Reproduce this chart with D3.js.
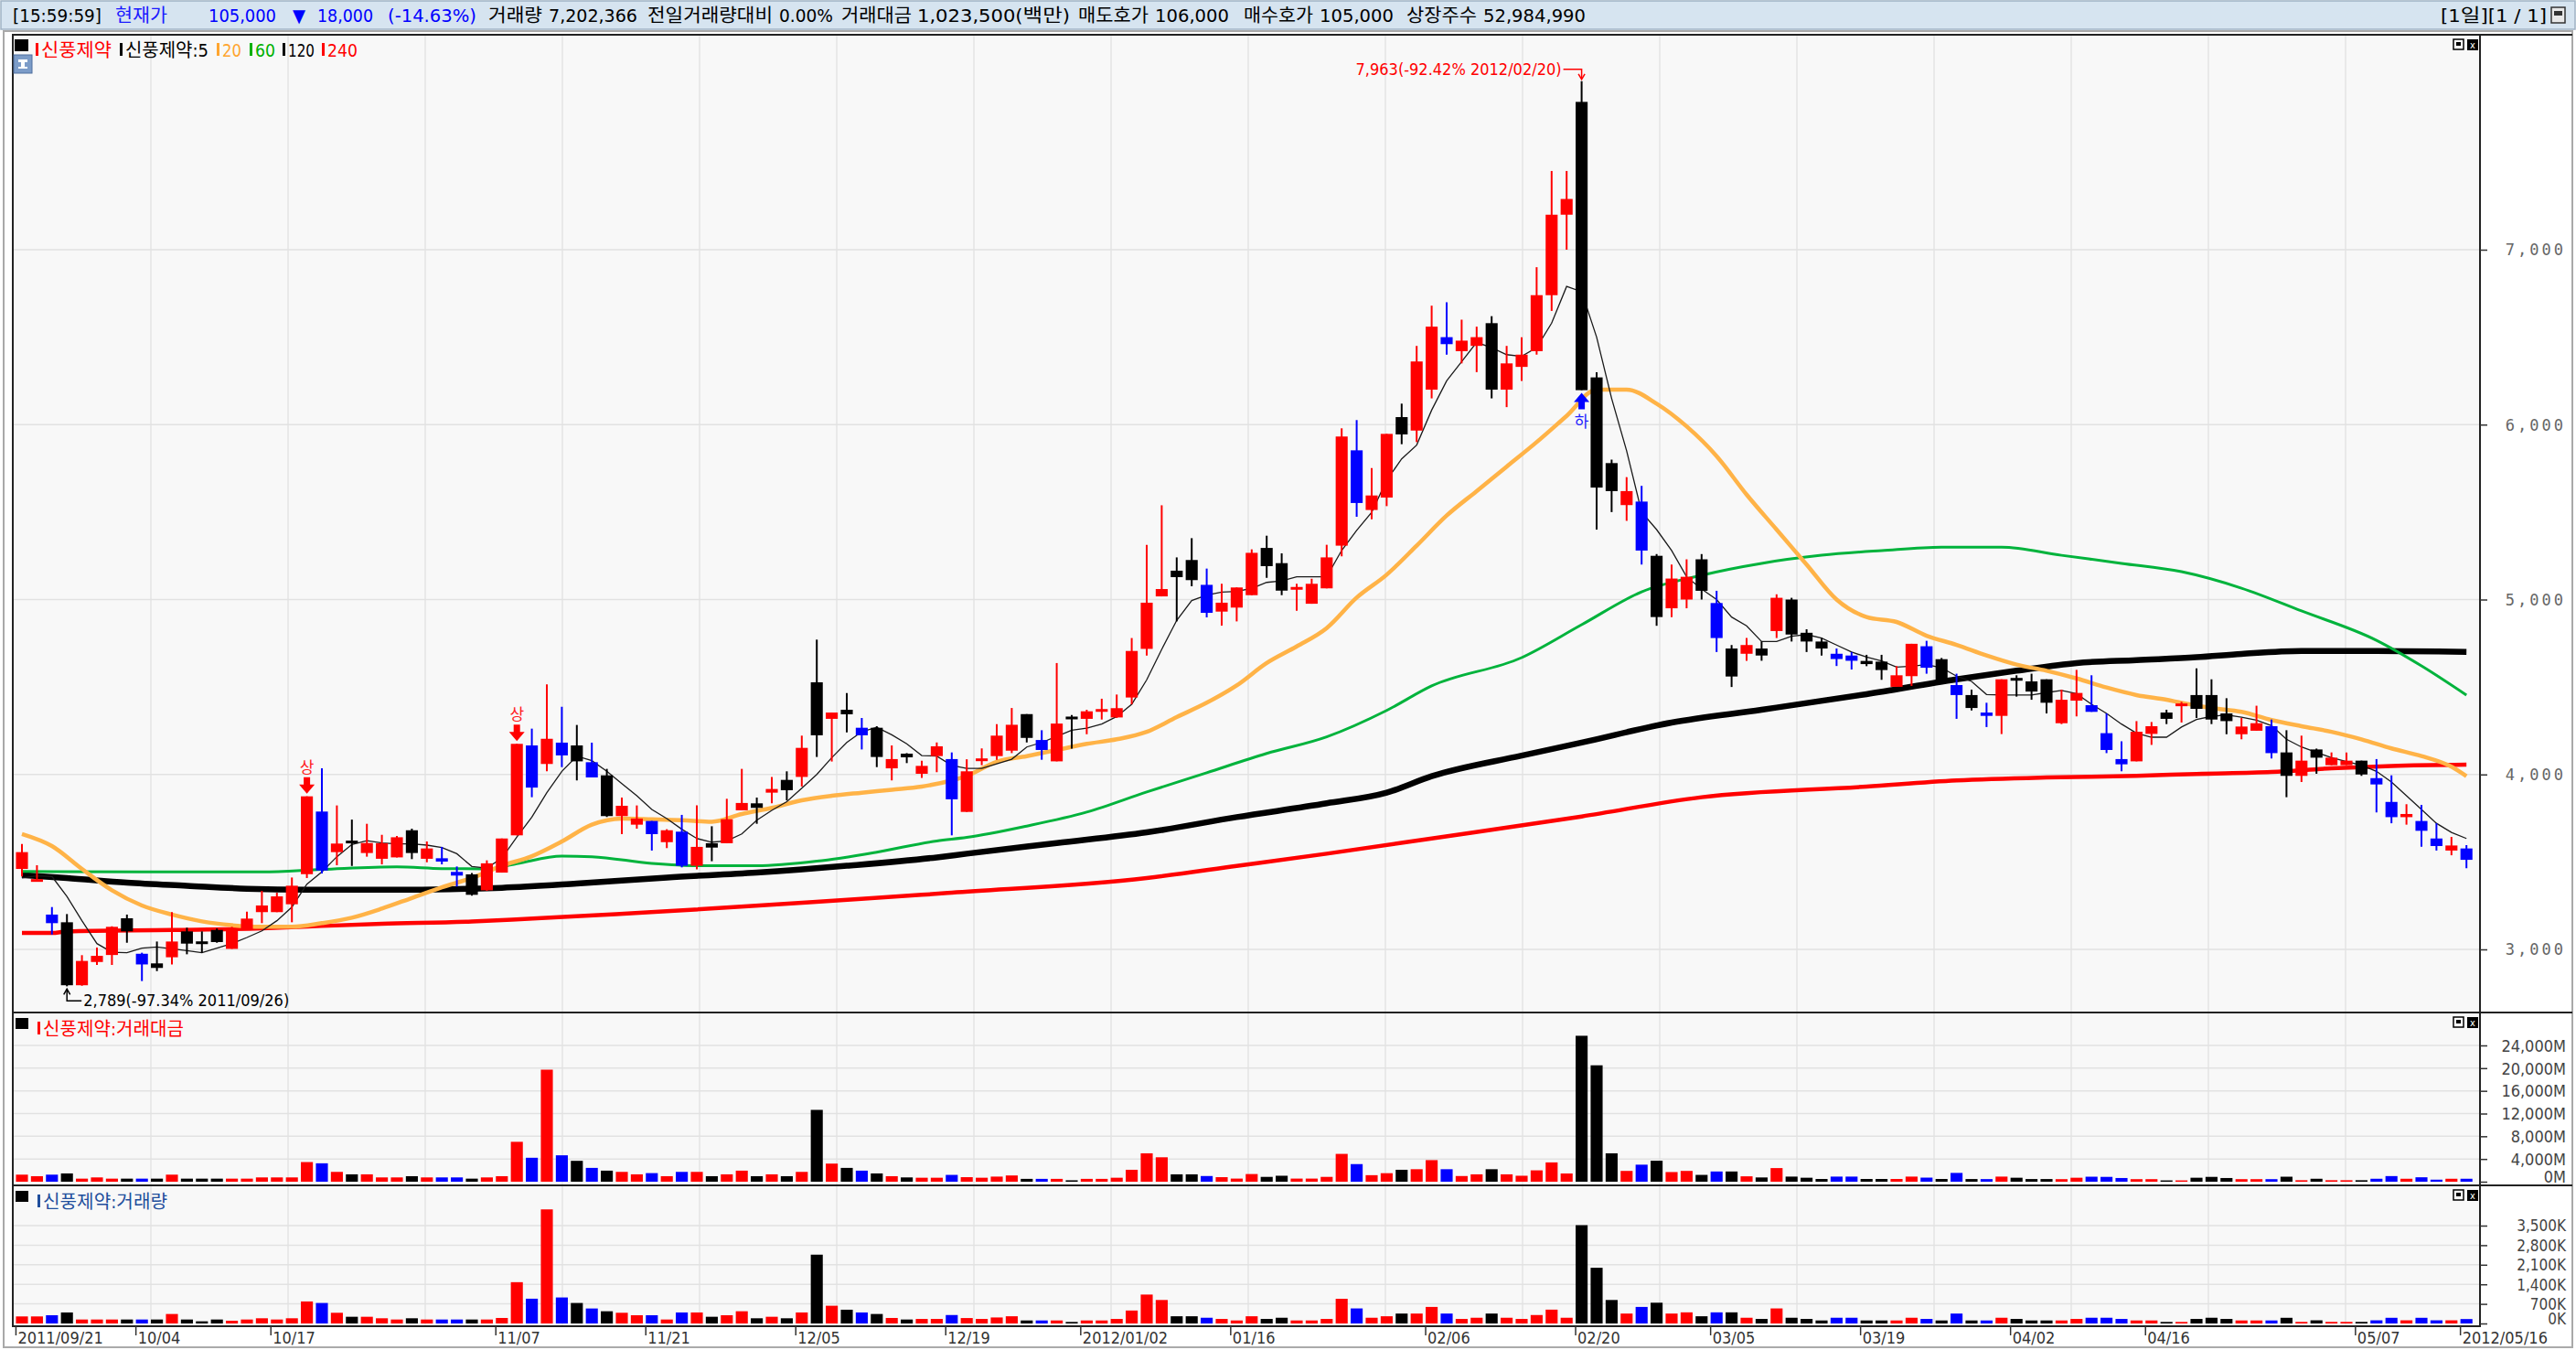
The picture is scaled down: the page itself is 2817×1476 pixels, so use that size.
<!DOCTYPE html>
<html><head><meta charset="utf-8">
<script src="https://cdn.jsdelivr.net/npm/d3@7"></script>
<style>
html,body{margin:0;padding:0;background:#fff;overflow:hidden;}
svg{display:block;}
</style></head><body>
<svg id="c" width="2817" height="1476"></svg>
<script>
// ---------------- DATA ----------------
const tickLabels = ["2011/09/21","10/04","10/17","11/07","11/21","12/05","12/19","2012/01/02","01/16","02/06","02/20","03/05","03/19","04/02","04/16","05/07","2012/05/16"];
const tickBars   = [0,8,17,32,42,52,62,71,81,94,104,113,123,133,142,156,163];

const open = [3460,3390,3199,3155,2795,2928,2968,3178,2975,2920,
 2955,3103,3038,3111,3003,3115,3213,3213,3258,3430,
 3788,3556,3614,3551,3518,3526,3681,3518,3521,3443,
 3429,3338,3439,3652,4166,4060,4182,4166,4070,3995,
 3762,3713,3734,3613,3673,3478,3607,3607,3795,3835,
 3896,3969,3986,4527,4318,4370,4267,4267,4035,4119,
 4004,4105,4088,3786,4070,4105,4136,4345,4197,4075,
 4323,4318,4356,4326,4440,4718,5018,5165,5226,5084,
 4931,4954,5025,5295,5208,5053,4976,5064,5308,5853,
 5512,5583,6043,5966,6200,6500,6420,6450,6580,6200,
 6330,6420,6740,7200,7845,6270,5780,5540,5560,5250,
 4950,5000,5230,4980,4720,4690,4720,4820,5000,4810,
 4760,4690,4680,4649,4645,4501,4562,4733,4659,4511,
 4454,4354,4335,4544,4532,4544,4293,4422,4396,4236,
 4088,4075,4232,4354,4384,4454,4454,4349,4230,4250,
 4276,4126,3992,4143,4053,4053,4079,3979,3843,3756,
 3734,3634,3565,3577];
const high = [3603,3481,3242,3202,2967,3010,3132,3199,2981,3045,
 3213,3124,3103,3120,3129,3216,3335,3324,3411,3875,
 4035,3823,3742,3718,3655,3648,3690,3617,3586,3474,
 3437,3509,3634,4175,4262,4515,4387,4283,4182,4032,
 3868,3823,3734,3687,3769,3823,3704,3861,4032,3868,
 3986,4018,4222,4771,4354,4466,4323,4276,4166,4122,
 4079,4183,4126,4087,4149,4288,4380,4345,4253,4637,
 4340,4370,4433,4457,4780,5313,5539,5241,5351,5177,
 5090,5069,5287,5365,5264,5090,5119,5313,5979,6026,
 5752,5947,6120,6450,6680,6700,6600,6560,6620,6450,
 6500,6900,7450,7450,7963,6300,5800,5700,5650,5260,
 5200,5230,5260,5050,4740,4780,4760,5030,5010,4830,
 4780,4720,4700,4684,4684,4619,4747,4764,4666,4576,
 4485,4410,4544,4567,4576,4544,4485,4598,4567,4349,
 4189,4305,4300,4370,4415,4607,4544,4436,4323,4393,
 4314,4253,4222,4148,4126,4126,4079,4088,3995,3830,
 3826,3721,3643,3596];
const low = [3417,3388,3085,2789,2792,2911,2911,3038,2819,2876,
 2914,2972,2981,3038,3003,3111,3150,3213,3155,3408,
 3434,3481,3477,3530,3486,3526,3516,3498,3486,3359,
 3307,3335,3439,3652,3870,4018,4042,3966,3983,3757,
 3659,3690,3565,3579,3469,3457,3504,3607,3795,3718,
 3835,3852,3931,4100,4074,4241,4143,4042,3966,4065,
 3980,4013,3652,3786,4053,4084,4122,4183,4084,4075,
 4148,4230,4314,4323,4401,4680,5018,4875,5076,4898,
 4851,4875,5025,5124,5025,4936,4976,5064,5247,5473,
 5459,5534,5888,5900,6150,6400,6350,6300,6150,6100,
 6250,6400,6650,7000,6197,5400,5500,5450,5200,4850,
 4900,4950,5000,4700,4500,4650,4650,4780,4760,4700,
 4680,4620,4600,4619,4541,4501,4506,4576,4523,4318,
 4366,4271,4231,4445,4427,4349,4288,4332,4358,4122,
 4018,4075,4169,4288,4297,4323,4288,4230,4201,4250,
 4091,3870,3957,4004,4053,4053,3992,3783,3721,3713,
 3587,3565,3538,3464];
const close = [3556,3394,3150,2795,2934,2963,3129,3103,2914,2894,
 3045,3033,3024,3042,3120,3176,3251,3303,3364,3875,
 3451,3605,3600,3608,3607,3641,3551,3577,3502,3422,
 3312,3492,3634,4175,3925,4204,4109,4075,3983,3762,
 3821,3748,3659,3681,3478,3586,3582,3744,3837,3809,
 3917,3910,4152,4224,4354,4344,4224,4100,4088,4098,
 4049,4161,3858,4018,4084,4222,4284,4209,4140,4291,
 4311,4361,4366,4379,4706,4982,5060,5128,5111,4924,
 4982,5069,5267,5191,5051,5064,5090,5241,5932,5552,
 5595,5947,5944,6361,6560,6460,6480,6500,6200,6350,
 6400,6740,7200,7290,6197,5640,5620,5620,5280,4900,
 5120,5130,5050,4780,4560,4740,4680,5010,4800,4760,
 4720,4660,4650,4631,4597,4567,4747,4610,4528,4454,
 4380,4335,4544,4532,4474,4410,4427,4466,4358,4140,
 4058,4244,4276,4318,4398,4375,4314,4305,4274,4293,
 4122,3992,4079,4096,4096,4079,4000,3943,3756,3774,
 3678,3591,3594,3512];
// r = 상승(red), b = 하락(blue), k = black
const barType = ("rrbkrrrkbk"+"rkkkrrrrrr"+"brkrrrkrbb"+"krrrbrbkbk"+"rrbrbrkrrk"+
 "rkrkrkbkrk"+"rrbrrrrkbr"+"krrrrrrkkb"+"rrrkkrrrrb"+"rrkrrbrrkr"+
 "rrrrkkkrbk"+"rrkbkrkrkk"+"kbbkkrrbkb"+"kbrkkkrrbb"+"brrkrkkkrr"+
 "bkrkrrkbbr"+"bbrb").split("");

const ma5 = [3408,3420,3417,3303,3164,3033,2984,2981,3007,3014,
 3003,2993,2981,3007,3033,3068,3106,3164,3242,3373,
 3443,3530,3600,3622,3608,3603,3603,3596,3582,3547,
 3474,3465,3521,3643,3756,3896,4018,4105,4079,4018,
 3948,3878,3800,3748,3687,3634,3613,3620,3660,3739,
 3795,3844,3922,4000,4096,4183,4244,4270,4227,4175,
 4108,4105,4052,4035,4035,4061,4087,4157,4183,4218,
 4253,4265,4288,4331,4401,4541,4715,4881,4994,5025,
 5043,5046,5064,5098,5107,5130,5130,5130,5281,5395,
 5499,5682,5804,5883,6083,6250,6360,6470,6440,6400,
 6390,6440,6580,6790,6760,6500,6150,5850,5500,5400,
 5280,5130,5060,5000,4900,4850,4760,4760,4790,4800,
 4780,4740,4700,4671,4649,4614,4619,4628,4610,4562,
 4532,4457,4454,4454,4454,4468,4480,4462,4401,4349,
 4288,4236,4213,4213,4271,4314,4332,4340,4328,4311,
 4279,4201,4157,4126,4096,4074,4053,4018,3957,3878,
 3800,3721,3669,3634];
const ma20 = [[0,3660],[2,3591],[4,3460],[6,3338],[8,3251],[10,3199],[12,3160],[14,3138],[16,3129],[18,3129],[20,3150],[22,3181],[24,3233],[26,3294],[28,3355],[30,3408],[32,3478],[34,3533],[36,3617],[38,3713],[40,3748],[42,3744],[44,3739],[46,3730],[48,3774],[50,3809],[52,3852],[54,3878],[56,3896],[58,3913],[60,3931],[62,3966],[63,3992],[65,4073],[67,4105],[69,4140],[71,4175],[73,4201],[75,4244],[77,4328],[79,4410],[81,4509],[83,4637],[85,4732],[87,4837],[89,5011],[91,5142],[93,5308],[95,5480],[97,5620],[99,5760],[101,5900],[103,6050],[105,6200],[107,6200],[109,6120],[111,5990],[113,5820],[115,5600],[117,5400],[119,5200],[121,5000],[123,4900],[125,4872],[127,4793],[129,4741],[131,4680],[133,4628],[135,4593],[137,4549],[139,4497],[141,4454],[143,4427],[144,4410],[146,4380],[148,4358],[150,4311],[152,4276],[154,4244],[156,4201],[158,4149],[160,4105],[162,4044],[163,3990]];
const ma60 = [[0,3446],[8,3443],[16,3443],[20,3457],[25,3472],[28,3462],[31,3460],[33,3490],[36,3533],[38,3530],[42,3491],[45,3478],[49,3478],[53,3504],[57,3556],[61,3620],[63,3640],[67,3705],[71,3785],[75,3900],[79,4010],[83,4120],[87,4215],[91,4366],[94,4506],[100,4668],[104,4856],[108,5044],[112,5139],[116,5207],[120,5253],[124,5280],[128,5300],[132,5300],[136,5253],[140,5207],[144,5159],[148,5065],[152,4935],[157,4767],[160,4621],[163,4454]];
const ma120 = [[0,3425],[3,3408],[7,3382],[11,3364],[15,3347],[19,3341],[26,3341],[30,3347],[32,3352],[37,3376],[43,3411],[49,3439],[55,3478],[61,3526],[63,3547],[69,3608],[75,3669],[81,3756],[87,3835],[91,3896],[94,3990],[100,4108],[104,4182],[110,4297],[116,4370],[123,4459],[129,4544],[133,4593],[137,4637],[141,4654],[145,4670],[148,4689],[152,4706],[157,4706],[163,4701]];
const ma240 = [[0,3094],[2,3094],[3,3103],[10,3111],[16,3120],[20,3134],[24,3146],[30,3160],[31,3164],[60,3312],[62,3324],[75,3408],[81,3477],[87,3547],[94,3634],[104,3760],[112,3870],[123,3931],[129,3966],[135,3983],[141,3992],[145,4003],[150,4014],[154,4035],[158,4049],[163,4056]];

// 거래대금 (백만원)
const amount = [1243,973,1243,1460,540,757,540,540,540,540,
 1243,540,540,540,540,540,757,757,757,3460,
 3243,1730,1300,1300,757,757,973,757,757,757,
 540,757,973,7027,4216,19730,4650,3676,2432,1946,
 1730,1300,1514,973,1730,1730,973,1300,1946,973,
 1300,973,1730,12650,3190,2432,1946,1460,973,757,
 700,700,1200,800,700,900,1100,500,500,500,
 250,500,500,700,2100,5000,4300,1300,1300,1000,
 800,550,1350,850,1050,550,550,850,4900,3100,
 1150,1500,2100,2200,3800,2200,1000,1300,2200,1300,
 1050,2000,3400,1450,25700,20500,5000,1900,3000,3700,
 1700,1900,1200,1800,1800,950,750,2400,900,700,
 480,900,900,480,480,480,900,720,480,1550,
 470,460,900,700,470,470,450,700,880,850,
 650,450,450,230,230,700,850,650,450,450,
 450,880,260,520,260,260,260,520,990,520,
 780,360,520,520];
// 거래량 (천주)
const volume = [252,252,295,394,142,142,142,142,142,142,
 339,142,77,142,98,142,186,142,186,788,
 733,383,240,240,186,142,186,142,142,142,
 142,142,197,1477,886,4080,930,733,536,437,
 383,295,295,142,394,394,240,295,437,186,
 240,186,394,2461,634,492,394,339,197,142,
 162,162,302,194,162,215,258,108,108,108,
 54,108,108,162,463,1034,840,258,258,205,
 162,108,258,162,205,108,108,162,883,538,
 205,258,355,355,592,355,162,205,355,205,
 162,302,495,205,3516,1992,840,355,592,743,
 355,398,258,398,398,205,162,538,205,162,
 108,205,205,108,108,108,205,162,108,355,
 108,108,205,162,108,108,108,162,205,205,
 162,108,108,54,54,162,205,162,108,108,
 108,203,56,113,56,56,56,113,203,113,
 203,113,113,158];

const priceTicks  = [3000,4000,5000,6000,7000];
const amountTicks = [0,4000,8000,12000,16000,20000,24000];
const volumeTicks = [0,700,1400,2100,2800,3500];
const limitUp = [19,33];
const limitDown = [104];
const hiNote = "(-92.42% 2012/02/20)";
const loNote = "(-97.34% 2011/09/26)";

// ---------------- DRAW ----------------
const svg = d3.select("#c");
const NUM = "'Liberation Sans Narrow','DejaVu Sans Condensed','Noto Sans CJK KR',sans-serif";
const KO  = "'Noto Sans CJK KR','Noto Sans CJK SC',sans-serif";
const COL = {r:"#ff0000", b:"#0000ff", k:"#000000"};
const N = close.length;
const PL = 14, PR = 2712;
const panels = {main:[38,1107], amt:[1107,1296], vol:[1296,1450]};

const xb = d3.scaleBand().domain(d3.range(N)).range([15.8, 15.8 + 16.4*N]).paddingInner(0.2).paddingOuter(0.1);
const xc = i => xb(i) + xb.bandwidth()/2;
const yP = d3.scaleLinear().domain([3000,7000]).range([1038,273]);
const yA = d3.scaleLinear().domain([0,24000]).range([1292,1143]);
const yV = d3.scaleLinear().domain([0,3500]).range([1447,1340]);

svg.append("rect").attr("width",2817).attr("height",1476).attr("fill","#ffffff");
// header
svg.append("rect").attr("x",1).attr("y",1).attr("width",2815).attr("height",31).attr("fill","#d6e4f0").attr("stroke","#9fb2c4").attr("stroke-width",1.5);
const hdr = [["[15:59:59]","#000"],["현재가","#1a1aff"],["105,000","#0000ff"],["▼","#0000ff"],["18,000","#0000ff"],["(-14.63%)","#0000ff"],
 ["거래량","#000"],["7,202,366","#000"],["전일거래량대비","#000"],["0.00%","#000"],["거래대금","#000"],["1,023,500(백만)","#000"],
 ["매도호가","#000"],["106,000","#000"],["매수호가","#000"],["105,000","#000"],["상장주수","#000"],["52,984,990","#000"]];
const hdrX = [14,126,228,320,347,424,534,600,708,852,920,1003,1179,1263,1360,1443,1538,1622];
const hdrW = [97,57,74,14,61,97,59,97,137,59,77,167,77,81,76,81,77,112];
hdr.forEach((h,k)=>{
  svg.append("text").attr("x",hdrX[k]).attr("y",24).attr("fill",h[1]).attr("font-family",NUM).attr("font-size",20)
    .attr("textLength",hdrW[k]).attr("lengthAdjust","spacingAndGlyphs").text(h[0]);
});
svg.append("text").attr("x",2669).attr("y",24).attr("font-family",NUM).attr("font-size",20).attr("fill","#000")
  .attr("textLength",116).attr("lengthAdjust","spacingAndGlyphs").text("[1일][1 / 1]");
svg.append("rect").attr("x",2790).attr("y",8).attr("width",15).attr("height",17).attr("fill","#e8e8e8").attr("stroke","#333").attr("stroke-width",1.5);
svg.append("rect").attr("x",2793).attr("y",12).attr("width",9).attr("height",5).attr("fill","#333");

// outer frame
svg.append("rect").attr("x",4).attr("y",34).attr("width",2809).attr("height",1439).attr("fill","none").attr("stroke","#a9a9a9").attr("stroke-width",2);

// panels background
Object.values(panels).forEach(([t,b])=>{
  svg.append("rect").attr("x",PL).attr("y",t).attr("width",PR-PL).attr("height",b-t).attr("fill","#f8f8f8");
});
// clip paths
const defs = svg.append("defs");
Object.entries(panels).forEach(([k,[t,b]])=>{
  defs.append("clipPath").attr("id","clip-"+k).append("rect").attr("x",PL).attr("y",t+1).attr("width",PR-PL).attr("height",b-t-2);
});

// vertical gridlines (fixed pixel grid)
const vg = d3.range(165, PR, 150);
Object.values(panels).forEach(([t,b])=>{
  svg.append("g").selectAll("line").data(vg).join("line")
    .attr("x1",d=>d).attr("x2",d=>d).attr("y1",t).attr("y2",b).attr("stroke","#e4e4e4").attr("stroke-width",1.5);
});
// horizontal gridlines
function hgrid(scale, ticks){
  svg.append("g").selectAll("line").data(ticks).join("line")
    .attr("x1",PL).attr("x2",PR).attr("y1",d=>scale(d)).attr("y2",d=>scale(d)).attr("stroke","#e2e2e2").attr("stroke-width",1.5);
}
hgrid(yP, priceTicks);
hgrid(yA, amountTicks.slice(1));
hgrid(yV, volumeTicks.slice(1));

// ---- main panel: moving averages
const gM = svg.append("g").attr("clip-path","url(#clip-main)");
const lineP = d3.line().x(d=>xc(d[0])).y(d=>yP(d[1])).curve(d3.curveMonotoneX);
const lineP5 = d3.line().x(d=>xc(d[0])).y(d=>yP(d[1]));
gM.append("path").datum(ma240).attr("d",lineP).attr("fill","none").attr("stroke","#ff0000").attr("stroke-width",4.5);
gM.append("path").datum(ma120).attr("d",lineP).attr("fill","none").attr("stroke","#000000").attr("stroke-width",6.5);
gM.append("path").datum(ma60).attr("d",lineP).attr("fill","none").attr("stroke","#00b33c").attr("stroke-width",3);
gM.append("path").datum(ma20).attr("d",lineP).attr("fill","none").attr("stroke","#ffb347").attr("stroke-width",4.5);
gM.append("path").datum(ma5.map((v,i)=>[i,v])).attr("d",lineP5).attr("fill","none").attr("stroke","#1a1a1a").attr("stroke-width",1.3);

// candles
const cg = gM.append("g").selectAll("g").data(d3.range(N)).join("g");
cg.append("line").attr("x1",i=>xc(i)).attr("x2",i=>xc(i)).attr("y1",i=>yP(high[i])).attr("y2",i=>yP(low[i]))
  .attr("stroke",i=>COL[barType[i]]).attr("stroke-width",2);
cg.append("rect").attr("x",i=>xb(i)).attr("width",xb.bandwidth())
  .attr("y",i=>Math.min(yP(open[i]),yP(close[i])) - (Math.abs(yP(open[i])-yP(close[i]))<3?1.5:0))
  .attr("height",i=>Math.max(3,Math.abs(yP(open[i])-yP(close[i]))))
  .attr("fill",i=>COL[barType[i]]);

// limit markers
limitUp.forEach(i=>{
  const x = xc(i), y = yP(high[i]);
  gM.append("path").attr("d",`M${x-3.5},${y-21}h7v8h5l-8.5,10l-8.5,-10h5z`).attr("fill","#ff0000");
  gM.append("text").attr("x",x).attr("y",y-26).attr("text-anchor","middle").attr("font-family",KO).attr("font-size",17).attr("fill","#ff2020").text("상");
});
limitDown.forEach(i=>{
  const x = xc(i), y = yP(low[i]);
  gM.append("path").attr("d",`M${x-3.5},${y+21}h7v-8h5l-8.5,-10l-8.5,10h5z`).attr("fill","#0000ff");
  gM.append("text").attr("x",x).attr("y",y+40).attr("text-anchor","middle").attr("font-family",KO).attr("font-size",17).attr("fill","#2020ff").text("하");
});

// high / low notes
const iHi = d3.maxIndex(high), iLo = d3.minIndex(low);
{
  const x = xc(iHi), y = yP(high[iHi]);
  const ty = y - 13;
  gM.append("text").attr("x",x-22).attr("y",ty+6).attr("text-anchor","end").attr("font-family",NUM).attr("font-size",18).attr("fill","#ff0000")
    .text(d3.format(",")(high[iHi]) + hiNote);
  gM.append("path").attr("d",`M${x-20},${ty}H${x}V${y-3}`).attr("fill","none").attr("stroke","#ff0000").attr("stroke-width",1.5);
  gM.append("path").attr("d",`M${x-3.5},${y-8}L${x},${y-2}L${x+3.5},${y-8}`).attr("fill","none").attr("stroke","#ff0000").attr("stroke-width",1.5);
}
{
  const x = xc(iLo), y = yP(low[iLo]);
  const ty = y + 16;
  gM.append("path").attr("d",`M${x},${y+3}V${ty}H${x+16}`).attr("fill","none").attr("stroke","#000").attr("stroke-width",1.5);
  gM.append("path").attr("d",`M${x-3.5},${y+9}L${x},${y+3}L${x+3.5},${y+9}`).attr("fill","none").attr("stroke","#000").attr("stroke-width",1.5);
  gM.append("text").attr("x",x+18).attr("y",ty+6).attr("font-family",NUM).attr("font-size",18).attr("fill","#000")
    .text(d3.format(",")(low[iLo]) + loNote);
}

// ---- volume panels
function bars(data, scale, clip){
  const g = svg.append("g").attr("clip-path",`url(#clip-${clip})`);
  g.selectAll("rect").data(data).join("rect")
    .attr("x",(d,i)=>xb(i)).attr("width",xb.bandwidth())
    .attr("y",d=>scale(d)).attr("height",d=>Math.max(1,scale(0)-scale(d)))
    .attr("fill",(d,i)=>COL[barType[i]]);
}
bars(amount, yA, "amt");
bars(volume, yV, "vol");

// ---- panel borders
svg.append("rect").attr("x",PL).attr("y",38).attr("width",PR-PL).attr("height",1450-38).attr("fill","none").attr("stroke","#222").attr("stroke-width",2);
[1107,1296].forEach(y=>svg.append("line").attr("x1",PL).attr("x2",2813).attr("y1",y).attr("y2",y).attr("stroke","#222").attr("stroke-width",2));
svg.append("line").attr("x1",PL).attr("x2",2813).attr("y1",38).attr("y2",38).attr("stroke","#222").attr("stroke-width",2);
svg.append("line").attr("x1",PL).attr("x2",2813).attr("y1",1473).attr("y2",1473).attr("stroke","#aaa").attr("stroke-width",2);

// ---- right axes
function rightAxis(scale, ticks, fmt, opts){
  const ax = d3.axisRight(scale).tickValues(ticks).tickSize(8).tickFormat(fmt);
  const g = svg.append("g").attr("transform",`translate(${PR},0)`).call(ax);
  g.select(".domain").remove();
  g.selectAll(".tick line").attr("stroke","#333").attr("stroke-width",1.5);
  g.selectAll(".tick text").attr("x",2806-PR).attr("text-anchor","end").attr("font-family",opts.font).attr("font-size",opts.size)
    .attr("fill",opts.color).attr("letter-spacing",opts.ls||0)
    .attr("dy",d=>d===0?"0.05em":"0.35em");
  return g;
}
rightAxis(yP, priceTicks, d3.format(","), {font:"'DejaVu Sans Mono',monospace", size:17, color:"#666", ls:"3px"});
rightAxis(yA, amountTicks, d=>d3.format(",")(d)+"M", {font:NUM, size:18, color:"#444"});
rightAxis(yV, volumeTicks, d=>d3.format(",")(d)+"K", {font:NUM, size:17, color:"#444"});

// ---- x axis (date ticks at bar left edge)
const xa = svg.append("g");
xa.selectAll("line").data(tickBars).join("line")
  .attr("x1",i=>xb(i)).attr("x2",i=>xb(i)).attr("y1",1450).attr("y2",1460).attr("stroke","#333").attr("stroke-width",1.5);
xa.selectAll("text").data(tickBars).join("text")
  .attr("x",i=>xb(i)+2).attr("y",1469).attr("font-family",NUM).attr("font-size",18).attr("fill","#333")
  .text((d,k)=>tickLabels[k]);

// ---- legends
function icons(top){
  svg.append("rect").attr("x",2683).attr("y",top+5).attr("width",11).attr("height",11).attr("fill","#fff").attr("stroke","#000").attr("stroke-width",1.5);
  svg.append("rect").attr("x",2686).attr("y",top+8).attr("width",5).attr("height",4).attr("fill","#000");
  svg.append("rect").attr("x",2698).attr("y",top+5).attr("width",12).attr("height",12).attr("fill","#000");
  svg.append("text").attr("x",2704).attr("y",top+15).attr("text-anchor","middle").attr("font-family",NUM).attr("font-size",11).attr("fill","#fff").text("x");
}
icons(38); icons(1107); icons(1296);

svg.append("rect").attr("x",16).attr("y",43).attr("width",15).attr("height",13).attr("fill","#000");
svg.append("rect").attr("x",15).attr("y",60).attr("width",20).attr("height",20).attr("fill","#7c9cc8").attr("stroke","#4e6e9e");
svg.append("path").attr("d","M20,65h10v3h-3v5h3v2h-10v-2h3v-5h-3z").attr("fill","#fff");
const leg = [["신풍제약","#ff0000"],["신풍제약:5","#000"],["20","#ffa530"],["60","#00b000"],["120","#000"],["240","#ff0000"]];
const legM = [39,131,237,273,309,352];
const legX = [45,137,243,279,315,358];
const legW = [77,91,21,22,29,33];
leg.forEach((l,k)=>{
  svg.append("rect").attr("x",legM[k]).attr("y",47).attr("width",3).attr("height",14).attr("fill",l[1]);
  svg.append("text").attr("x",legX[k]).attr("y",62).attr("font-family",NUM).attr("font-size",20).attr("fill",l[1])
    .attr("textLength",legW[k]).attr("lengthAdjust","spacingAndGlyphs").text(l[0]);
});
function subLegend(top, txt, color, w){
  svg.append("rect").attr("x",17).attr("y",top+6).attr("width",14).attr("height",12).attr("fill","#000");
  svg.append("rect").attr("x",41).attr("y",top+10).attr("width",3).attr("height",14).attr("fill",color);
  svg.append("text").attr("x",47).attr("y",top+25).attr("font-family",NUM).attr("font-size",20).attr("fill",color)
    .attr("textLength",w).attr("lengthAdjust","spacingAndGlyphs").text(txt);
}
subLegend(1107, "신풍제약:거래대금", "#ff0000", 154);
subLegend(1296, "신풍제약:거래량", "#1f4e9c", 136);
</script>
</body></html>
